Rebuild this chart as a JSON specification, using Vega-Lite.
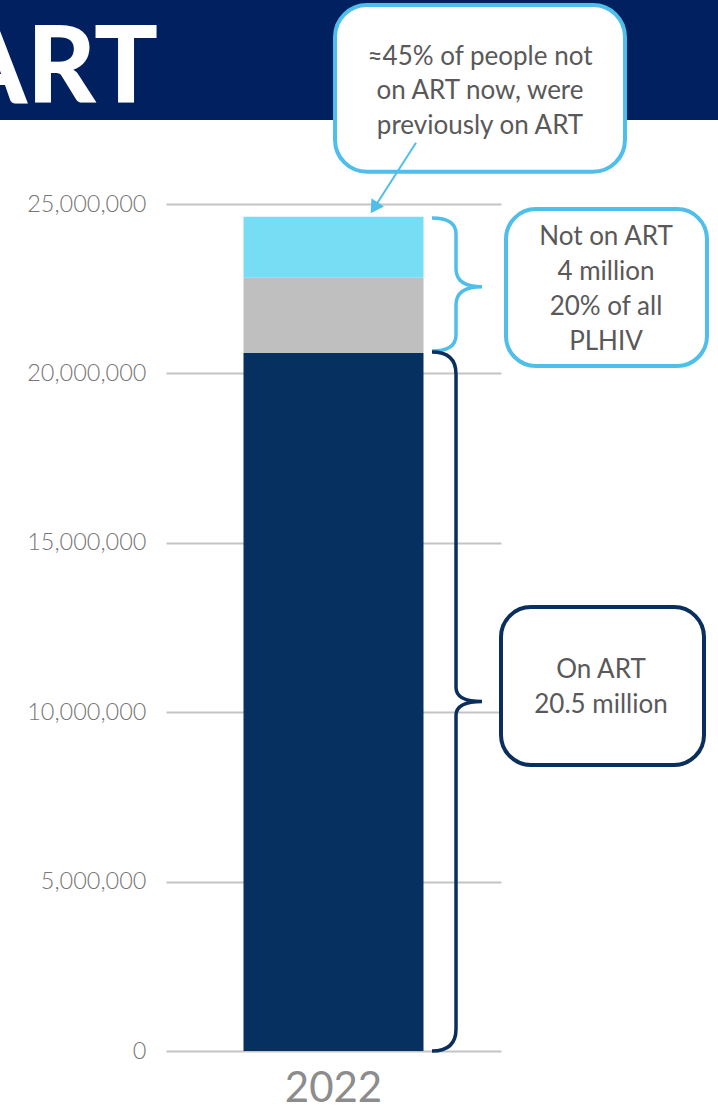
{
  "$schema": "https://vega.github.io/schema/vega-lite/v6.json",
  "width": 335,
  "height": 847,
  "autosize": {"type": "none"},
  "padding": {"left": 166, "top": 204, "right": 217, "bottom": 58},
  "background": "white",
  "config": {"view": {"stroke": null}},
  "resolve": {"scale": {"x": "independent"}, "axis": {"x": "independent"}},
  "layer": [
    {
      "data": {"values": [
        {"year": "2022", "segment": "On ART", "value": 20600000, "rank": 1},
        {"year": "2022", "segment": "Not on ART, not previously on ART", "value": 2220000, "rank": 2},
        {"year": "2022", "segment": "Not on ART, previously on ART", "value": 1800000, "rank": 3}
      ]},
      "mark": {"type": "bar"},
      "encoding": {
        "x": {"field": "year", "type": "nominal",
              "scale": {"paddingInner": 0, "paddingOuter": 0.4306},
              "axis": {"title": null, "domain": false, "ticks": false, "labelAngle": 0, "labelFont": "Lato", "labelFontSize": 42, "labelColor": "#8c8c8c", "labelPadding": 17}},
        "y": {"field": "value", "type": "quantitative", "stack": "zero",
              "scale": {"domain": [0, 25000000], "nice": false},
              "axis": {"title": null, "values": [0, 5000000, 10000000, 15000000, 20000000, 25000000], "labelExpr": "format(datum.value, ',')", "domain": false, "ticks": false, "tickSize": 0, "labelPadding": 20, "labelFont": "Lato", "labelFontWeight": 300, "labelFontSize": 23.5, "labelColor": "#767676", "grid": true, "gridColor": "#c4c4c4", "gridWidth": 2}},
        "color": {"field": "segment", "type": "nominal", "legend": null,
                  "scale": {"domain": ["On ART", "Not on ART, not previously on ART", "Not on ART, previously on ART"], "range": ["#06305f", "#bfbfbf", "#77ddf5"]}},
        "order": {"field": "rank", "type": "quantitative"}
      }
    },
    {
      "data": {"values": [{}]},
      "layer": [
        {
          "mark": {"type": "rect", "color": "#00205f"},
          "encoding": {
            "x": {"datum": -60, "type": "quantitative", "scale": {"domain": [0, 100]}, "axis": null},
            "x2": {"datum": 170},
            "y": {"datum": 27479000, "type": "quantitative"},
            "y2": {"datum": 32000000}
          }
        },
        {
          "mark": {"type": "text", "text": "ART", "font": "Lato", "fontWeight": 900, "fontSize": 106, "color": "white", "align": "right", "baseline": "alphabetic"},
          "encoding": {
            "x": {"datum": -2.4, "type": "quantitative", "scale": {"domain": [0, 100]}, "axis": null},
            "y": {"datum": 27981000, "type": "quantitative"}
          }
        },
        {
          "mark": {"type": "rect", "fill": "white", "stroke": "#4fbeeb", "strokeWidth": 4, "cornerRadius": 32},
          "encoding": {
            "x": {"datum": 50.45, "type": "quantitative", "scale": {"domain": [0, 100]}, "axis": null},
            "x2": {"datum": 137.01},
            "y": {"datum": 30875000, "type": "quantitative"},
            "y2": {"datum": 25953000}
          }
        },
        {
          "mark": {"type": "text", "text": ["≈45% of people not", "on ART now, were", "previously on ART"], "font": "Lato", "fontSize": 26, "lineHeight": 34.5, "color": "#595959", "align": "center", "baseline": "middle"},
          "encoding": {
            "x": {"datum": 93.73, "type": "quantitative", "scale": {"domain": [0, 100]}, "axis": null},
            "y": {"datum": 29348000, "type": "quantitative"}
          }
        },
        {
          "mark": {"type": "rule", "color": "#4fbeeb", "strokeWidth": 2},
          "encoding": {
            "x": {"datum": 74.63, "type": "quantitative", "scale": {"domain": [0, 100]}, "axis": null},
            "x2": {"datum": 62.15},
            "y": {"datum": 26809000, "type": "quantitative"},
            "y2": {"datum": 24888000}
          }
        },
        {
          "mark": {"type": "point", "shape": "triangle-up", "filled": true, "color": "#4fbeeb", "opacity": 1, "size": 225, "angle": 212.7},
          "encoding": {
            "x": {"datum": 62.15, "type": "quantitative", "scale": {"domain": [0, 100]}, "axis": null},
            "y": {"datum": 24888000, "type": "quantitative"}
          }
        },
        {
          "mark": {"type": "point", "shape": "M -0.361 -1 Q 0 -1 0 -0.759 L 0 -0.238 Q 0 0.033 0.391 0.033 Q 0 0.033 0 0.304 L 0 0.759 Q 0 1 -0.361 1", "filled": false, "fill": null, "stroke": "#4fbeeb", "strokeWidth": 3.5, "opacity": 1, "size": 17689},
          "encoding": {
            "x": {"datum": 86.57, "type": "quantitative", "scale": {"domain": [0, 100]}, "axis": null},
            "y": {"datum": 22624000, "type": "quantitative"}
          }
        },
        {
          "mark": {"type": "point", "shape": "M -0.0687 -1 Q 0 -1 0 -0.937 L 0 -0.04 Q 0 0 0.0744 0 Q 0 0 0 0.04 L 0 0.937 Q 0 1 -0.0687 1", "filled": false, "fill": null, "stroke": "#0b2f5c", "strokeWidth": 3.5, "opacity": 1, "size": 488601},
          "encoding": {
            "x": {"datum": 86.57, "type": "quantitative", "scale": {"domain": [0, 100]}, "axis": null},
            "y": {"datum": 10316000, "type": "quantitative"}
          }
        },
        {
          "mark": {"type": "rect", "fill": "white", "stroke": "#4fbeeb", "strokeWidth": 4, "cornerRadius": 30},
          "encoding": {
            "x": {"datum": 101.49, "type": "quantitative", "scale": {"domain": [0, 100]}, "axis": null},
            "x2": {"datum": 161.49},
            "y": {"datum": 24852000, "type": "quantitative"},
            "y2": {"datum": 20218000}
          }
        },
        {
          "mark": {"type": "text", "text": ["Not on ART", "4 million", "20% of all", "PLHIV"], "font": "Lato", "fontSize": 26, "lineHeight": 35, "color": "#595959", "align": "center", "baseline": "middle"},
          "encoding": {
            "x": {"datum": 131.34, "type": "quantitative", "scale": {"domain": [0, 100]}, "axis": null},
            "y": {"datum": 24035000, "type": "quantitative"}
          }
        },
        {
          "mark": {"type": "rect", "fill": "white", "stroke": "#0b2f5c", "strokeWidth": 4, "cornerRadius": 30},
          "encoding": {
            "x": {"datum": 100.0, "type": "quantitative", "scale": {"domain": [0, 100]}, "axis": null},
            "x2": {"datum": 160.6},
            "y": {"datum": 13105000, "type": "quantitative"},
            "y2": {"datum": 8442000}
          }
        },
        {
          "mark": {"type": "text", "text": ["On ART", "20.5 million"], "font": "Lato", "fontSize": 26, "lineHeight": 35, "color": "#595959", "align": "center", "baseline": "middle"},
          "encoding": {
            "x": {"datum": 129.85, "type": "quantitative", "scale": {"domain": [0, 100]}, "axis": null},
            "y": {"datum": 11246000, "type": "quantitative"}
          }
        }
      ]
    }
  ]
}
